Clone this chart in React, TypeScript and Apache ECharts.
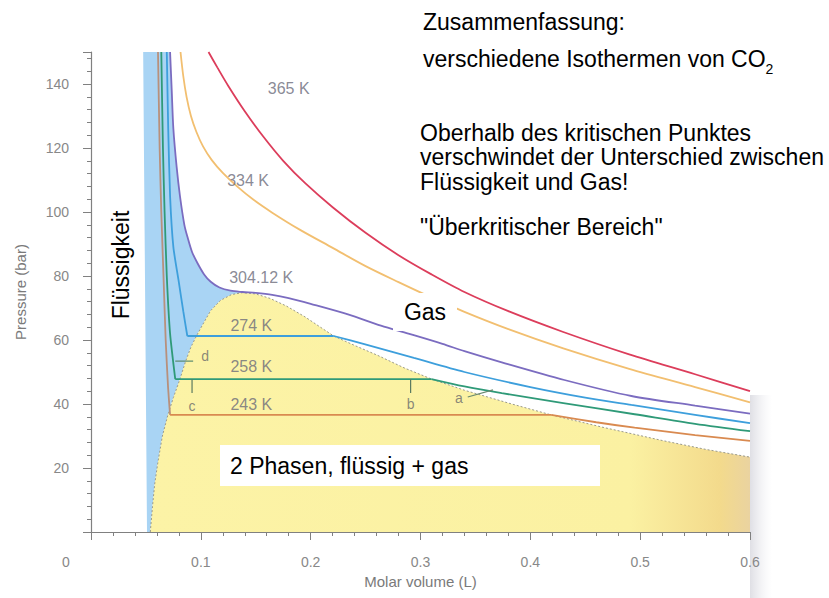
import React, { useEffect, useRef } from "react";
import * as echarts from "echarts";

// ---- data (molar volume in L, pressure in bar) ----
const iso365: number[][] = [[0.107,150],[0.115,145.2],[0.125,139.4],[0.14,131.5],[0.157,123.5],[0.175,116],[0.195,109],[0.22,101.5],[0.25,93.5],[0.28,86.5],[0.31,80.5],[0.34,75],[0.38,69],[0.43,62.5],[0.49,55.5],[0.55,49.3],[0.6,44]];
const iso334: number[][] = [[0.0815,150],[0.084,142.5],[0.087,136],[0.091,130],[0.096,125],[0.102,120.5],[0.11,116.2],[0.12,112.2],[0.133,108],[0.148,103.8],[0.165,99.8],[0.19,94.5],[0.22,88.8],[0.25,83.1],[0.28,78.1],[0.31,73.3],[0.34,68.8],[0.38,63.4],[0.43,57.4],[0.49,51],[0.55,45.3],[0.6,40.5]];
const iso304: number[][] = [[0.072,150],[0.0735,138],[0.075,126],[0.078,114],[0.081,105],[0.085,96],[0.088,92],[0.092,87.5],[0.097,84],[0.103,80.5],[0.109,78.2],[0.117,76.4],[0.127,75.4],[0.138,75],[0.15,74.7],[0.165,74.1],[0.18,73.1],[0.2,71.3],[0.234,68],[0.264,64.5],[0.289,62],[0.32,58.8],[0.34,56.5],[0.374,53],[0.431,47.5],[0.492,42.5],[0.55,39.5],[0.6,37]];
const iso274Liquid: number[][] = [[0.069,150],[0.0703,126],[0.072,105],[0.075,89],[0.08,78],[0.084,69],[0.0877,61.25]];
const iso274Flat: number[][] = [[0.0877,61.25],[0.221,61.25]];
const iso274Gas: number[][] = [[0.221,61.25],[0.248,58.8],[0.294,54.4],[0.34,50],[0.4,45.3],[0.45,42],[0.492,39.7],[0.55,36.6],[0.6,34]];
const iso258Liquid: number[][] = [[0.064,150],[0.0655,120],[0.067,100],[0.069,80],[0.072,62],[0.0767,47.8]];
const iso258Flat: number[][] = [[0.0767,47.8],[0.31,47.8]];
const iso258Gas: number[][] = [[0.31,47.8],[0.34,45.5],[0.374,43.4],[0.43,40.3],[0.495,36.8],[0.55,33.8],[0.6,31.5]];
const iso243Liquid: number[][] = [[0.061,150],[0.0625,120],[0.064,100],[0.066,80],[0.068,60],[0.0702,45],[0.072,36.6]];
const iso243Flat: number[][] = [[0.072,36.6],[0.419,36.6]];
const iso243Gas: number[][] = [[0.419,36.6],[0.46,34.3],[0.495,32.6],[0.55,30.3],[0.6,28.5]];
const domeCurve: number[][] = [[0.054,0],[0.056,8],[0.058,15],[0.061,22],[0.065,30],[0.07,36.6],[0.075,42],[0.081,47.8],[0.086,53.2],[0.091,57.8],[0.096,61.25],[0.102,65],[0.109,69.2],[0.118,72.4],[0.128,74.2],[0.138,74.8],[0.15,74.4],[0.163,73],[0.178,70.6],[0.195,67.2],[0.208,64.2],[0.221,61.25],[0.24,58.3],[0.261,55.2],[0.285,51.3],[0.31,47.8],[0.34,44.3],[0.38,40.3],[0.419,36.6],[0.465,32.8],[0.52,28.6],[0.56,25.8],[0.6,23.4]];
const liquidEdge: number[][] = [[0.0475,150],[0.051,0]];
const isothermLabels = ["365 K", "334 K", "304.12 K", "274 K", "258 K", "243 K"];
const isothermLabelAt: number[][] = [[0.18,138.75],[0.143,110],[0.155,79.4],[0.146,64.4],[0.146,51.6],[0.146,39.7]];
const pointLetters = ["a", "b", "c", "d"];
const pointLetterAt: number[][] = [[0.335,41.9],[0.291,40],[0.092,39.4],[0.104,55]];
const markD: number[][] = [[0.0767,53.4],[0.093,53.4]];
const markC: number[][] = [[0.092,47.8],[0.092,43.4]];
const markB: number[][] = [[0.291,47.8],[0.291,43.4]];
const markA: number[][] = [[0.343,42.2],[0.366,44.4]];

const FONT = "'Liberation Sans', Arial, Helvetica, sans-serif";

export default function App() {
  const ref = useRef<HTMLDivElement>(null);
  useEffect(() => {
    if (!ref.current) return;
    const chart = echarts.init(ref.current, undefined, { renderer: "svg" });
    const bluePolygon = [
      ...liquidEdge,
      ...domeCurve.filter((p) => p[0] <= 0.138),
      ...iso304.filter((p) => p[0] < 0.138).slice().reverse(),
    ];
    const yellowPolygon = [...domeCurve, [0.6, 0]];
    const poly = (pts: number[][], fill: any, z: number) => ({
      type: "custom",
      silent: true,
      z,
      data: [[0, 0]],
      renderItem: (_p: any, api: any) => ({
        type: "polygon",
        shape: { points: pts.map((p) => api.coord(p)) },
        style: { fill },
      }),
    });
    const line = (data: number[][], color: string, smooth: number | boolean, width = 1.8, z = 4, type: any = "solid") => ({
      type: "line",
      data,
      symbol: "none",
      smooth,
      silent: true,
      z,
      lineStyle: { color, width, type },
    });
    const C365 = "#dc3d5b", C334 = "#f2bf70", C304 = "#7b6cc0", C274 = "#3d9fdc", C258 = "#2f9a78", C243 = "#d98a50";
    const txt = (text: string, x: number, y: number, extra: any = {}) => ({
      type: "text", z: 101, x, y,
      style: { text, fill: "#000", fontSize: 23, fontFamily: FONT, align: "left", verticalAlign: "middle", ...extra },
    });
    const option: any = {
      animation: false,
      backgroundColor: "#ffffff",
      grid: { left: 91, right: 79, top: 52, bottom: 66 },
      xAxis: {
        type: "value",
        min: 0,
        max: 0.6,
        interval: 0.1,
        name: "Molar volume (L)",
        nameLocation: "middle",
        nameGap: 42,
        nameTextStyle: { color: "#7a7a7a", fontSize: 15, fontFamily: FONT },
        axisLine: { lineStyle: { color: "#808080", width: 1.2 } },
        axisTick: { show: true, length: 8, lineStyle: { color: "#808080" } },
        minorTick: { show: true, splitNumber: 5, length: 4, lineStyle: { color: "#808080" } },
        splitLine: { show: false },
        axisLabel: { showMinLabel: false, margin: 23, color: "#888", fontSize: 14, fontFamily: FONT, formatter: (v: number) => v.toFixed(1) },
      },
      yAxis: {
        type: "value",
        min: 0,
        max: 150,
        interval: 20,
        name: "Pressure (bar)",
        nameLocation: "middle",
        nameGap: 63,
        nameTextStyle: { color: "#7a7a7a", fontSize: 15, fontFamily: FONT },
        axisLine: { lineStyle: { color: "#808080", width: 1.2 } },
        axisTick: { show: true, length: 8, lineStyle: { color: "#808080" } },
        minorTick: { show: true, splitNumber: 5, length: 4, lineStyle: { color: "#808080" } },
        splitLine: { show: false },
        axisLabel: { showMinLabel: false, showMaxLabel: false, margin: 22, color: "#888", fontSize: 14, fontFamily: FONT },
      },
      series: [
        poly(bluePolygon, "#a9d4f4", 1),
        poly(yellowPolygon, {
          type: "linear", x: 0, y: 0, x2: 1, y2: 0,
          colorStops: [
            { offset: 0, color: "#fcf3a6" },
            { offset: 0.8, color: "#fbf1a2" },
            { offset: 0.95, color: "#f3da8c" },
            { offset: 1, color: "#ead3a0" },
          ],
        }, 1),
        line(domeCurve, "#9a9a8a", false, 1, 3, [2, 2]),
        line(iso365, C365, 0.3),
        line(iso334, C334, 0.3),
        line(iso304, C304, 0.3),
        line(iso274Liquid, C274, 0.2),
        line(iso274Flat, C274, false),
        line(iso274Gas, C274, 0.3),
        line(iso258Liquid, C258, 0.2),
        line(iso258Flat, C258, false),
        line(iso258Gas, C258, 0.3),
        line(iso243Liquid, "#b8907c", 0.2),
        line(iso243Flat, C243, false),
        line(iso243Gas, C243, 0.3),
        line(markD, "#5b8a6e", false, 1.2),
        line(markC, "#5b7a60", false, 1.2),
        line(markB, "#5b7a60", false, 1.2),
        line(markA, "#6a8a70", false, 1.2),
        {
          type: "scatter",
          silent: true,
          z: 6,
          symbolSize: 1,
          itemStyle: { color: "rgba(0,0,0,0)" },
          data: isothermLabels.map((n, i) => ({ name: n, value: isothermLabelAt[i] })),
          label: { show: true, position: "inside", formatter: "{b}", color: "#6b6b7a", fontSize: 16, fontFamily: FONT },
        },
        {
          type: "scatter",
          silent: true,
          z: 6,
          symbolSize: 1,
          itemStyle: { color: "rgba(0,0,0,0)" },
          data: pointLetters.map((n, i) => ({ name: n, value: pointLetterAt[i] })),
          label: { show: true, position: "inside", formatter: "{b}", color: "#6b6b6b", fontSize: 14, fontFamily: FONT },
        },
      ],
      graphic: [
        {
          type: "rect", z: 0, shape: { x: 750, y: 395, width: 22, height: 203 },
          style: { fill: { type: "linear", x: 0, y: 0, x2: 1, y2: 0, colorStops: [{ offset: 0, color: "rgba(215,215,222,0.8)" }, { offset: 1, color: "rgba(235,235,240,0)" }] } },
        },
        { type: "text", z: 100, x: 66, y: 562, style: { text: "0", fill: "#888", fontSize: 14, fontFamily: FONT, align: "center", verticalAlign: "middle" } },
        txt("Zusammenfassung:", 423, 22),
        {
          type: "text", z: 101, x: 423, y: 47,
          style: {
            text: "{a|verschiedene Isothermen von CO}{s|2}",
            fill: "#000", fontFamily: FONT, align: "left", verticalAlign: "top",
            rich: {
              a: { fontSize: 23, fontFamily: FONT, fill: "#000", lineHeight: 26, verticalAlign: "top" },
              s: { fontSize: 14, fontFamily: FONT, fill: "#000", lineHeight: 14, padding: [15, 0, 0, 0], verticalAlign: "top" },
            },
          },
        },
        txt("Oberhalb des kritischen Punktes", 420, 133),
        txt("verschwindet der Unterschied zwischen", 420, 157),
        txt("Flüssigkeit und Gas!", 420, 182),
        txt("\"Überkritischer Bereich\"", 420, 227),
        { type: "text", z: 101, x: 121, y: 265, rotation: Math.PI / 2, style: { text: "Flüssigkeit", fill: "#000", fontSize: 23, fontFamily: FONT, align: "center", verticalAlign: "middle" } },
        { type: "rect", z: 100, shape: { x: 393, y: 293, width: 64, height: 38 }, style: { fill: "#ffffff" } },
        txt("Gas", 425, 312, { align: "center" }),
        { type: "rect", z: 100, shape: { x: 220, y: 445, width: 380, height: 41 }, style: { fill: "#ffffff" } },
        txt("2 Phasen, flüssig + gas", 230, 466),
      ],
    };
    chart.setOption(option);
    return () => chart.dispose();
  }, []);
  return <div ref={ref} style={{ position: "fixed", left: 0, top: 0, width: 829, height: 598, background: "#fff" }} />;
}
